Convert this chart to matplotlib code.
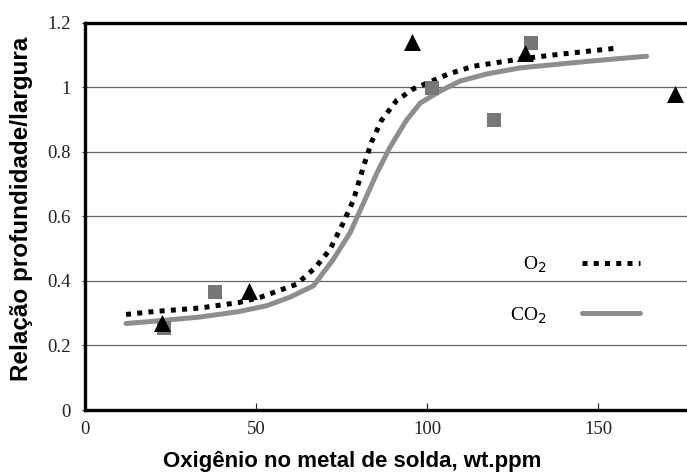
import matplotlib
matplotlib.use("Agg")
import matplotlib.pyplot as plt

# O2 curve (dotted)
o2_x = [12, 20, 33.6, 45, 51.2, 61.9, 67.3, 71.6, 75.5, 78.5, 81.4, 83.8, 86.7, 91.1, 96, 99.4,
        106.2, 113.5, 121.3, 129.1, 136.9, 144.7, 155.4]
o2_y = [0.296, 0.305, 0.316, 0.333, 0.349, 0.39, 0.441, 0.497, 0.58, 0.651, 0.754, 0.831, 0.898, 0.959, 0.995, 1.01,
        1.041, 1.065, 1.078, 1.09, 1.10, 1.109, 1.121]
# CO2 curve (grey solid)
co2_x = [12, 20, 33.6, 45, 53.1, 60, 66.8, 72.6, 77.5, 81.4, 85.3, 89.2, 94.0, 98, 103.8, 109.6,
         117.4, 127.2, 136.9, 146.7, 156.4, 164.2]
co2_y = [0.268, 0.275, 0.288, 0.305, 0.323, 0.35, 0.385, 0.467, 0.549, 0.641, 0.733, 0.815, 0.898, 0.951, 0.988, 1.019,
         1.041, 1.06, 1.07, 1.08, 1.089, 1.096]
# measured points
tri_x = [22.5, 48, 95.6, 128.7, 172.5]
tri_y = [0.27, 0.37, 1.14, 1.107, 0.98]
sq_x = [23, 38, 101.5, 119.6, 130.4]
sq_y = [0.255, 0.365, 0.997, 0.90, 1.137]

xticks = [0, 50, 100, 150]
yticks = [0, 0.2, 0.4, 0.6, 0.8, 1.0, 1.2]
ytick_labels = ["0", "0.2", "0.4", "0.6", "0.8", "1", "1.2"]

fig = plt.figure(figsize=(6.87, 4.73), dpi=100)
ax = fig.add_axes([85/687, 1 - 410/473, 1 - 85/687, (410 - 22.7)/473])

for yv in yticks[1:-1]:
    ax.axhline(yv, color="#666666", lw=0.9, zorder=1)

ax.plot(co2_x, co2_y, color="#8e8e8e", lw=3.6, solid_capstyle="round", solid_joinstyle="round",
        zorder=2, label="CO$_2$")
ax.plot(o2_x, o2_y, color="black", lw=3.6, linestyle=(0, (1, 1.25)), dash_capstyle="butt",
        zorder=3, label="O$_2$")
ax.scatter(sq_x, sq_y, marker="s", s=110, color="#777777", zorder=4, linewidths=0)
ax.scatter(tri_x, tri_y, marker="^", s=150, color="black", zorder=5, linewidths=0)

ax.set_xlim(0, 176)
ax.set_ylim(0, 1.2)
ax.set_xticks(xticks)
ax.set_xticklabels([str(t) for t in xticks], fontfamily="Liberation Serif", fontsize=13.5)
ax.set_yticks(yticks)
ax.set_yticklabels(ytick_labels, fontfamily="Liberation Serif", fontsize=13.5, color="#222222")
ax.tick_params(axis="x", direction="in", length=5, width=0.8, pad=8, colors="#222222")
ax.tick_params(axis="y", direction="out", length=2, width=0.6, pad=8)

for s in ["left", "bottom", "top"]:
    ax.spines[s].set_linewidth(2.4)
    ax.spines[s].set_color("black")
ax.spines["right"].set_visible(False)

ax.set_xlabel("Oxigênio no metal de solda, wt.ppm", fontfamily="Liberation Sans",
              fontweight="bold", fontsize=16)
ax.xaxis.set_label_coords(0.444, -0.106)
ax.set_ylabel("Relação profundidade/largura", fontfamily="Liberation Sans",
              fontweight="bold", fontsize=17.5)
ax.yaxis.set_label_coords(-0.086, 0.52)

handles, labels = ax.get_legend_handles_labels()
leg = ax.legend(handles[::-1], labels[::-1], loc="upper left", bbox_to_anchor=(0.677, 0.446),
                frameon=False, markerfirst=False, handlelength=3.0, handletextpad=1.8,
                labelspacing=1.55, prop={"family": "Liberation Serif", "size": 14})

fig.savefig("out.png", dpi=100)
